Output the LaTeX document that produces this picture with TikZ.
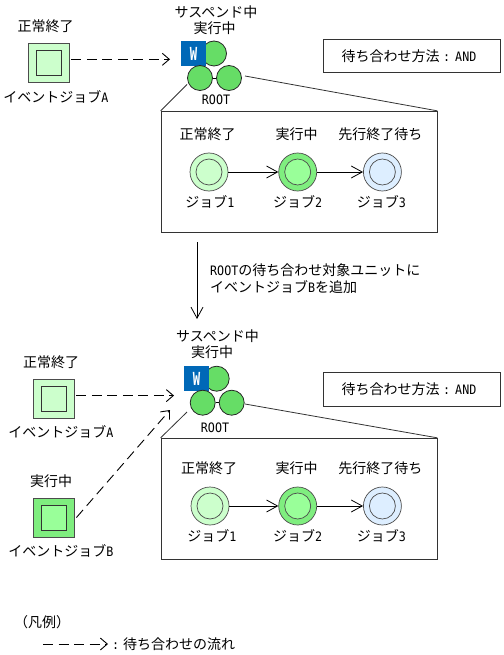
\documentclass[tikz,border=0pt]{standalone}
\usepackage{fontspec}
\setmainfont{Noto Sans CJK JP}
\newfontfamily\latfont[FakeStretch=0.9]{DejaVu Sans Mono}
\newfontfamily\wfont[FakeStretch=0.68]{DejaVu Sans Mono}
\newcommand{\lat}[1]{{\latfont\fontsize{13}{15}\selectfont #1}}
\usepackage{tikz}
\usetikzlibrary{arrows.meta,positioning}

\begin{document}
\begin{tikzpicture}[
  x=1pt, y=-1pt,
  txt/.style={inner sep=0pt, align=center, font=\fontsize{14}{17}\selectfont},
  event_box/.style={draw=black!70, line width=0.9pt, minimum width=41pt, minimum height=39pt, inner sep=0pt},
  event_in/.style={draw=black!80, line width=0.9pt, minimum width=25pt, minimum height=25pt, inner sep=0pt},
  job/.style={circle, draw=black!70, line width=0.7pt, minimum size=38pt, inner sep=0pt},
  job_in/.style={circle, draw=black!70, line width=0.7pt, minimum size=26pt, inner sep=0pt},
  unit/.style={circle, draw=black!85, line width=0.8pt, fill=unitgreen, minimum size=25pt, inner sep=0pt},
  wmark/.style={fill=waitblue, minimum width=25pt, minimum height=25pt, inner sep=0pt, text=white, font=\wfont\bfseries\fontsize{18}{18}\selectfont},
  frame/.style={draw=black!80, line width=0.8pt, minimum width=276pt, minimum height=121.5pt, inner sep=0pt},
  method/.style={draw=black!80, line width=0.8pt, minimum width=177pt, minimum height=33.5pt, inner sep=0pt, font=\fontsize{14}{17}\selectfont},
  arrow/.style={-{Straight Barb[length=7pt, width=12pt]}, line width=0.9pt},
  bigarrow/.style={-{Straight Barb[length=11pt, width=12pt]}, line width=0.8pt},
  waitarrow/.style={arrow, dash pattern=on 10pt off 5.5pt},
  zoomline/.style={line width=0.8pt, black!80}
]
  \definecolor{unitgreen}{HTML}{66DD66}
  \definecolor{waitblue}{HTML}{0068B7}
  \definecolor{palegreen}{HTML}{CCFFCC}
  \definecolor{midgreen}{HTML}{99FF99}
  \definecolor{darkgreen}{HTML}{7FEE7F}
  \definecolor{paleblue}{HTML}{DDEEFF}
  \useasboundingbox (0,0) rectangle (503,655);

  % upper half
  \node[event_box, fill=palegreen] (evA) at (48.5,62.5) {};
  \node[event_in, fill=palegreen] (evAin) at (evA) {};
  \node[txt] (evAstate) at (45.5,26) {正常終了};
  \node[txt] (evAname) at (56,96.5) {イベントジョブ\lat{A}};

  \node[unit] (top) at (214,53.5) {};
  \node[wmark] (wbox) at (193.5,53.5) {W};
  \node[unit] (left) at (200,78) {};
  \node[unit] (right) at (229,78) {};
  \node[txt] (state) at (216,12) {サスペンド中};
  \node[txt] (state_b) at (214.5,28.5) {実行中};
  \node[txt] (root) at (216,100) {\lat{ROOT}};
  \node[method] (way) at (411.5,56) {\hspace{-5pt}待ち合わせ方法\hspace{3.5pt}\lat{:}\hspace{5pt}\lat{AND}};

  \node[frame] (detail) at (299,172) {};
  \node[job, fill=palegreen] (job1) at (209,172) {};
  \node[job_in, fill=palegreen] (job1in) at (job1) {};
  \node[job, fill=darkgreen, right=50pt of job1] (job2) {};
  \node[job_in, fill=midgreen] (job2in) at (job2) {};
  \node[job, fill=paleblue, right=46pt of job2] (job3) {};
  \node[job_in, fill=paleblue] (job3in) at (job3) {};
  \node[txt, above=12pt of job1, xshift=-1.5pt] (job1state) {正常終了};
  \node[txt, above=12pt of job2, xshift=-1pt] (job2state) {実行中};
  \node[txt, above=12pt of job3, xshift=-2pt] (job3state) {先行終了待ち};
  \node[txt, below=4pt of job1, xshift=1pt] (job1name) {ジョブ\lat{1}};
  \node[txt, below=4pt of job2] (job2name) {ジョブ\lat{2}};
  \node[txt, below=4pt of job3, xshift=-1pt] (job3name) {ジョブ\lat{3}};

  \coordinate (zoomL) at (187,84.5);
  \coordinate (zoomR) at (245,76);
  \draw[waitarrow] ([xshift=2pt]evA.east |- 0,59.3) -- (170,59.3);
  \draw[line width=0.8pt] (left) -- (right);
  \draw[zoomline] (zoomL) -- (detail.north west);
  \draw[zoomline] (zoomR) -- (detail.north east);
  \draw[bigarrow] (job1) -- (job2);
  \draw[bigarrow] (job2) -- (job3);

  % step between the two states
  \coordinate (stepfrom) at (197,242);
  \coordinate (stepto) at (197,319);
  \draw[bigarrow] (stepfrom) -- (stepto);
  \node[txt, align=left, anchor=west] (steptext) at (210,278.5) {\lat{ROOT}の待ち合わせ対象ユニットに\\イベントジョブ\lat{B}を追加};

  % lower half
  \node[event_box, fill=palegreen] (evA2) at (53.5,398.5) {};
  \node[event_in, fill=palegreen] (evA2in) at (evA2) {};
  \node[txt] (evA2state) at (51,362) {正常終了};
  \node[txt] (evA2name) at (61,432) {イベントジョブ\lat{A}};
  \node[event_box, fill=darkgreen] (evB) at (53.5,517.5) {};
  \node[event_in, fill=midgreen] (evBin) at (evB) {};
  \node[txt] (evBstate) at (51,481) {実行中};
  \node[txt] (evBname) at (61,551) {イベントジョブ\lat{B}};

  \node[unit] (top2) at (216.7,378.7) {};
  \node[wmark] (wbox2) at (196.5,378.5) {W};
  \node[unit] (left2) at (202.7,402.7) {};
  \node[unit] (right2) at (231.7,402.7) {};
  \node[txt] (state2) at (217.5,336) {サスペンド中};
  \node[txt] (state2_b) at (212,352) {実行中};
  \node[txt] (root2) at (215,428) {\lat{ROOT}};
  \node[method] (way2) at (411.5,389.5) {\hspace{-5pt}待ち合わせ方法\hspace{3.5pt}\lat{:}\hspace{5pt}\lat{AND}};

  \node[frame] (detail2) at (299,499) {};
  \node[job, fill=palegreen] (job4) at (210,506) {};
  \node[job_in, fill=palegreen] (job4in) at (job4) {};
  \node[job, fill=darkgreen, right=49pt of job4] (job5) {};
  \node[job_in, fill=midgreen] (job5in) at (job5) {};
  \node[job, fill=paleblue, right=46pt of job5] (job6) {};
  \node[job_in, fill=paleblue] (job6in) at (job6) {};
  \node[txt, above=12pt of job4, xshift=-1pt] (job4state) {正常終了};
  \node[txt, above=12pt of job5, xshift=-1pt] (job5state) {実行中};
  \node[txt, above=12pt of job6, xshift=-2pt] (job6state) {先行終了待ち};
  \node[txt, below=4pt of job4, xshift=2pt] (job4name) {ジョブ\lat{1}};
  \node[txt, below=4pt of job5] (job5name) {ジョブ\lat{2}};
  \node[txt, below=4pt of job6, xshift=-1pt] (job6name) {ジョブ\lat{3}};

  \coordinate (waitA) at (174,395.6);
  \coordinate (waitB) at (170,410);
  \coordinate (zoomL2) at (187,412);
  \coordinate (zoomR2) at (245,404);
  \draw[waitarrow] ([xshift=2pt]evA2.east |- waitA) -- (waitA);
  \draw[waitarrow] ([xshift=2pt]evB.east) -- (waitB);
  \draw[line width=0.8pt] (left2) -- (right2);
  \draw[zoomline] (zoomL2) -- (detail2.north west);
  \draw[zoomline] (zoomR2) -- (detail2.north east);
  \draw[bigarrow] (job4) -- (job5);
  \draw[bigarrow] (job5) -- (job6);

  % legend
  \node[txt, anchor=west] (legend) at (14,622) {（凡例）};
  \coordinate (legfrom) at (43,644);
  \coordinate (legto) at (108,644);
  \draw[waitarrow] (legfrom) -- (legto);
  \node[txt, anchor=west] (legtext) at (112,644) {\lat{:}\hspace{4pt}待ち合わせの流れ};
\end{tikzpicture}
\end{document}
